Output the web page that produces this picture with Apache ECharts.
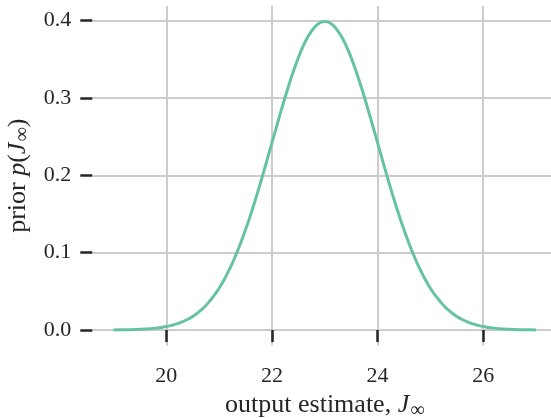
<!DOCTYPE html>
<html>
<head>
<meta charset="utf-8">
<script src="https://cdn.jsdelivr.net/npm/echarts@6/dist/echarts.min.js"></script>
<style>
html,body{margin:0;padding:0;background:#fff;}
#c{width:551px;height:418px;}
</style>
</head>
<body>
<div id="c"></div>
<script>
// Data (prior density curve), x from 19 to 27 in steps of 0.1
var xValues = [];
var yValues = [
  0.0001,0.0002,0.0003,0.0004,0.0006,0.0009,0.0012,0.0017,0.0024,0.0033,
  0.0044,0.0060,0.0079,0.0104,0.0136,0.0175,0.0224,0.0283,0.0355,0.0440,
  0.0540,0.0656,0.0790,0.0941,0.1109,0.1295,0.1497,0.1714,0.1942,0.2179,
  0.2420,0.2661,0.2897,0.3123,0.3332,0.3521,0.3683,0.3814,0.3910,0.3970,
  0.3989,
  0.3970,0.3910,0.3814,0.3683,0.3521,0.3332,0.3123,0.2897,0.2661,0.2420,
  0.2179,0.1942,0.1714,0.1497,0.1295,0.1109,0.0941,0.0790,0.0656,0.0540,
  0.0440,0.0355,0.0283,0.0224,0.0175,0.0136,0.0104,0.0079,0.0060,0.0044,
  0.0033,0.0024,0.0017,0.0012,0.0009,0.0006,0.0004,0.0003,0.0002,0.0001
];
var xStart = 19.0, xStep = 0.1;
for (var k = 0; k < yValues.length; k++) { xValues.push(Math.round((xStart + k * xStep) * 10) / 10); }
var xTicks = [20, 22, 24, 26];
var yTicks = [0.0, 0.1, 0.2, 0.3, 0.4];

var points = xValues.map(function (x, i) { return [x, yValues[i]]; });

var FONT = '"Liberation Serif", "DejaVu Serif", serif';
var INK = '#262626';
var richName = {
  r: { fontFamily: FONT, fontSize: 26, color: INK, lineHeight: 30, verticalAlign: 'top' },
  i: { fontFamily: FONT, fontSize: 26, color: INK, fontStyle: 'italic', lineHeight: 30, verticalAlign: 'top' },
  s: { fontFamily: FONT, fontSize: 20, color: INK, lineHeight: 22, padding: [8, 0, 0, 1], verticalAlign: 'top' }
};

var chart = echarts.init(document.getElementById('c'), null, { renderer: 'canvas' });
chart.setOption({
  backgroundColor: '#ffffff',
  animation: false,
  grid: { left: 92.3, right: -6.2, top: 6.1, bottom: 72.6, containLabel: false, outerBoundsMode: 'none' },
  xAxis: {
    type: 'value',
    min: 18.6,
    max: 27.4,
    axisLine: { show: false },
    axisTick: { show: true, length: 12, lineStyle: { color: INK, width: 2.5 }, customValues: xTicks },
    axisLabel: { margin: 20, fontFamily: FONT, fontSize: 22, color: INK, customValues: xTicks,
                 formatter: function (v) { return String(v); } },
    splitLine: { show: true, lineStyle: { color: '#cccccc', width: 2 } },
    name: '{r|output estimate, }{i|J}{s|∞}',
    nameLocation: 'middle',
    nameGap: 46,
    nameTextStyle: { rich: richName }
  },
  yAxis: {
    type: 'value',
    min: -0.019947,
    max: 0.418887,
    axisLine: { show: false },
    axisTick: { show: true, length: 12, lineStyle: { color: INK, width: 2.5 }, customValues: yTicks },
    axisLabel: { margin: 21, fontFamily: FONT, fontSize: 22, color: INK, customValues: yTicks,
                 formatter: function (v) { return v.toFixed(1); } },
    splitLine: { show: true, lineStyle: { color: '#cccccc', width: 2 } },
    name: '{r|prior }{i|p}{r|(}{i|J}{s|∞}{r|)}',
    nameLocation: 'middle',
    nameRotate: 90,
    nameGap: 56,
    nameTextStyle: { rich: richName }
  },
  series: [{
    type: 'line',
    data: points,
    smooth: true,
    showSymbol: false,
    symbol: 'none',
    lineStyle: { color: '#66c2a5', width: 3 },
    clip: false
  }]
});
</script>
</body>
</html>
